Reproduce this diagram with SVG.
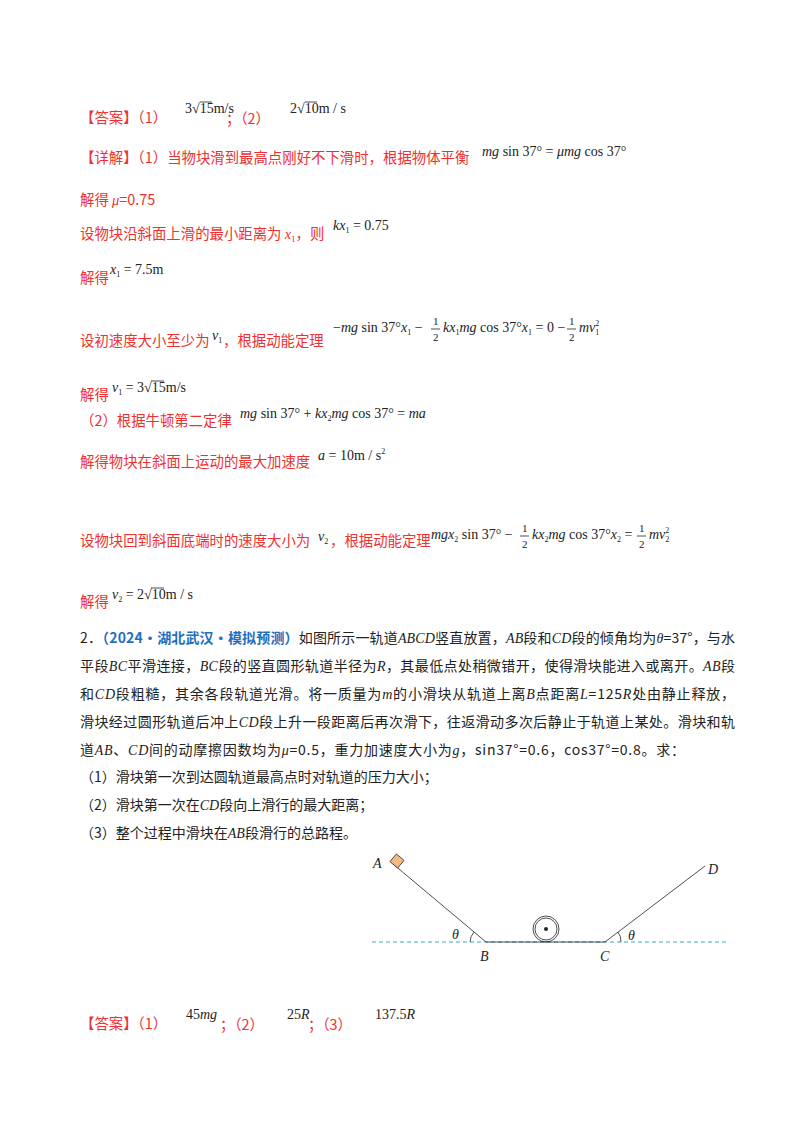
<svg xmlns="http://www.w3.org/2000/svg" width="800" height="1132" viewBox="0 0 800 1132">
<style>
.r{fill:#f03030;font-family:"Noto Sans CJK SC",sans-serif;font-size:14.4px}
.k{fill:#222;font-family:"Noto Sans CJK SC",sans-serif;font-size:14px}
.m{fill:#222;font-family:"Liberation Serif",serif;font-size:14px}
.s{fill:#222;font-family:"Liberation Serif",serif;font-size:11px}
.i{font-style:italic;font-family:"Liberation Serif",serif}
.b{fill:#1f6fc0;font-weight:bold}
.ln{stroke:#222;stroke-width:0.8;fill:none}
</style>
<rect width="800" height="1132" fill="#fff"/>
<text class="r" x="80" y="123">【答案】（1）</text>
<text class="m" x="185" y="113" font-size="13">3√15m/s</text><line class="ln" x1="200" y1="102" x2="212" y2="102"/>
<text class="r" x="226" y="124">；（2）</text>
<text class="m" x="290" y="113" font-size="13">2√10m / s</text><line class="ln" x1="305" y1="102" x2="317" y2="102"/>
<text class="r" x="80" y="163">【详解】（1）当物块滑到最高点刚好不下滑时，根据物体平衡</text>
<text class="m" x="482" y="156"><tspan class="i">mg</tspan> sin 37° = <tspan class="i">μmg</tspan> cos 37°</text>
<text class="r" x="80" y="205">解得 <tspan class="i">μ</tspan>=0.75</text>
<text class="r" x="80" y="239">设物块沿斜面上滑的最小距离为 <tspan class="i">x</tspan><tspan font-size="9" dy="3" font-family="Liberation Serif">1</tspan><tspan dy="-3">，则</tspan></text>
<text class="m" x="333" y="230"><tspan class="i">kx</tspan><tspan font-size="8" dy="3">1</tspan><tspan dy="-3"> = 0.75</tspan></text>
<text class="r" x="80" y="283">解得</text>
<text class="m" x="110" y="274"><tspan class="i">x</tspan><tspan font-size="8" dy="3">1</tspan><tspan dy="-3"> = 7.5m</tspan></text>
<text class="r" x="80" y="346">设初速度大小至少为</text>
<text class="m" x="212" y="340"><tspan class="i">v</tspan><tspan font-size="8" dy="3">1</tspan></text>
<text class="r" x="223" y="346">，根据动能定理</text>
<g id="eq1">
<text class="m" x="333" y="332">−<tspan class="i">mg</tspan> sin 37°<tspan class="i">x</tspan><tspan font-size="8" dy="3">1</tspan><tspan dy="-3"> −</tspan></text>
<text class="s" x="433" y="325">1</text><line class="ln" x1="431" y1="329" x2="440" y2="329"/><text class="s" x="433" y="341">2</text>
<text class="m" x="443" y="332"><tspan class="i">kx</tspan><tspan font-size="8" dy="3">1</tspan><tspan class="i" dy="-3">mg</tspan> cos 37°<tspan class="i">x</tspan><tspan font-size="8" dy="3">1</tspan><tspan dy="-3"> = 0 −</tspan></text>
<text class="s" x="569" y="325">1</text><line class="ln" x1="567" y1="329" x2="576" y2="329"/><text class="s" x="569" y="341">2</text>
<text class="m" x="579" y="332"><tspan class="i">mv</tspan><tspan font-size="8" dy="-6">2</tspan><tspan font-size="8" dx="-4" dy="9">1</tspan></text>
</g>
<text class="r" x="80" y="400">解得</text>
<text class="m" x="112" y="392"><tspan class="i">v</tspan><tspan font-size="8" dy="3">1</tspan><tspan dy="-3"> = 3√15m/s</tspan></text><line class="ln" x1="151" y1="381" x2="164" y2="381"/>
<text class="r" x="80" y="426">（2）根据牛顿第二定律</text>
<text class="m" x="240" y="418"><tspan class="i">mg</tspan> sin 37° + <tspan class="i">kx</tspan><tspan font-size="8" dy="3">2</tspan><tspan class="i" dy="-3">mg</tspan> cos 37° = <tspan class="i">ma</tspan></text>
<text class="r" x="80" y="467">解得物块在斜面上运动的最大加速度</text>
<text class="m" x="318" y="460"><tspan class="i">a</tspan> = 10m / s<tspan font-size="8" dy="-6">2</tspan></text>
<text class="r" x="80" y="546">设物块回到斜面底端时的速度大小为</text>
<text class="m" x="318" y="541"><tspan class="i">v</tspan><tspan font-size="8" dy="3">2</tspan></text>
<text class="r" x="330" y="546">，根据动能定理</text>
<g id="eq2">
<text class="m" x="431" y="539"><tspan class="i">mgx</tspan><tspan font-size="8" dy="3">2</tspan><tspan dy="-3"> sin 37° −</tspan></text>
<text class="s" x="522" y="532">1</text><line class="ln" x1="520" y1="536" x2="529" y2="536"/><text class="s" x="522" y="548">2</text>
<text class="m" x="532" y="539"><tspan class="i">kx</tspan><tspan font-size="8" dy="3">2</tspan><tspan class="i" dy="-3">mg</tspan> cos 37°<tspan class="i">x</tspan><tspan font-size="8" dy="3">2</tspan><tspan dy="-3"> =</tspan></text>
<text class="s" x="639" y="532">1</text><line class="ln" x1="637" y1="536" x2="646" y2="536"/><text class="s" x="639" y="548">2</text>
<text class="m" x="649" y="539"><tspan class="i">mv</tspan><tspan font-size="8" dy="-6">2</tspan><tspan font-size="8" dx="-4" dy="9">2</tspan></text>
</g>
<text class="r" x="80" y="607">解得</text>
<text class="m" x="112" y="599"><tspan class="i">v</tspan><tspan font-size="8" dy="3">2</tspan><tspan dy="-3"> = 2√10m / s</tspan></text><line class="ln" x1="151" y1="588" x2="164" y2="588"/>
<text class="k" x="80" y="643" textLength="655">2．<tspan class="b">（2024·湖北武汉·模拟预测）</tspan>如图所示一轨道<tspan class="i">ABCD</tspan>竖直放置，<tspan class="i">AB</tspan>段和<tspan class="i">CD</tspan>段的倾角均为<tspan class="i">θ</tspan>=37°，与水</text>
<text class="k" x="80" y="671" textLength="655">平段<tspan class="i">BC</tspan>平滑连接，<tspan class="i">BC</tspan>段的竖直圆形轨道半径为<tspan class="i">R</tspan>，其最低点处稍微错开，使得滑块能进入或离开。<tspan class="i">AB</tspan>段</text>
<text class="k" x="80" y="699" textLength="655">和<tspan class="i">CD</tspan>段粗糙，其余各段轨道光滑。将一质量为<tspan class="i">m</tspan>的小滑块从轨道上离<tspan class="i">B</tspan>点距离<tspan class="i">L</tspan>=125<tspan class="i">R</tspan>处由静止释放，</text>
<text class="k" x="80" y="727" textLength="655">滑块经过圆形轨道后冲上<tspan class="i">CD</tspan>段上升一段距离后再次滑下，往返滑动多次后静止于轨道上某处。滑块和轨</text>
<text class="k" x="80" y="755" textLength="605">道<tspan class="i">AB</tspan>、<tspan class="i">CD</tspan>间的动摩擦因数均为<tspan class="i">μ</tspan>=0.5，重力加速度大小为<tspan class="i">g</tspan>，sin37°=0.6，cos37°=0.8。求：</text>
<text class="k" x="80" y="782">（1）滑块第一次到达圆轨道最高点时对轨道的压力大小；</text>
<text class="k" x="80" y="810">（2）滑块第一次在<tspan class="i">CD</tspan>段向上滑行的最大距离；</text>
<text class="k" x="80" y="838">（3）整个过程中滑块在<tspan class="i">AB</tspan>段滑行的总路程。</text>
<g id="figure">
<line x1="372" y1="942" x2="728" y2="942" stroke="#3aa7c4" stroke-width="1" stroke-dasharray="4,3"/>
<polyline class="ln" stroke-width="1.2" points="393,864 486,942 605,942 705,866"/>
<rect x="392" y="856" width="10" height="10" fill="#f5b880" stroke="#333" stroke-width="0.8" transform="rotate(40 397 861)"/>
<circle cx="546" cy="929" r="13" class="ln" stroke-width="1"/>
<circle cx="546" cy="929" r="11" class="ln" stroke-width="1"/>
<circle cx="546" cy="929" r="2" fill="#222"/>
<path class="ln" d="M 470 942 A 16 16 0 0 1 474 932"/>
<path class="ln" d="M 621 942 A 16 16 0 0 0 618 932"/>
<text class="m i" x="373" y="868">A</text>
<text class="m i" x="708" y="874">D</text>
<text class="m i" x="480" y="961">B</text>
<text class="m i" x="600" y="961">C</text>
<text class="m i" x="452" y="939">θ</text>
<text class="m i" x="628" y="940">θ</text>
</g>
<text class="r" x="80" y="1029">【答案】（1）</text>
<text class="m" x="186" y="1019"><tspan>45</tspan><tspan class="i">mg</tspan></text>
<text class="r" x="220" y="1030">；（2）</text>
<text class="m" x="287" y="1019">25<tspan class="i">R</tspan></text>
<text class="r" x="308" y="1030">；（3）</text>
<text class="m" x="375" y="1019">137.5<tspan class="i">R</tspan></text>
</svg>
